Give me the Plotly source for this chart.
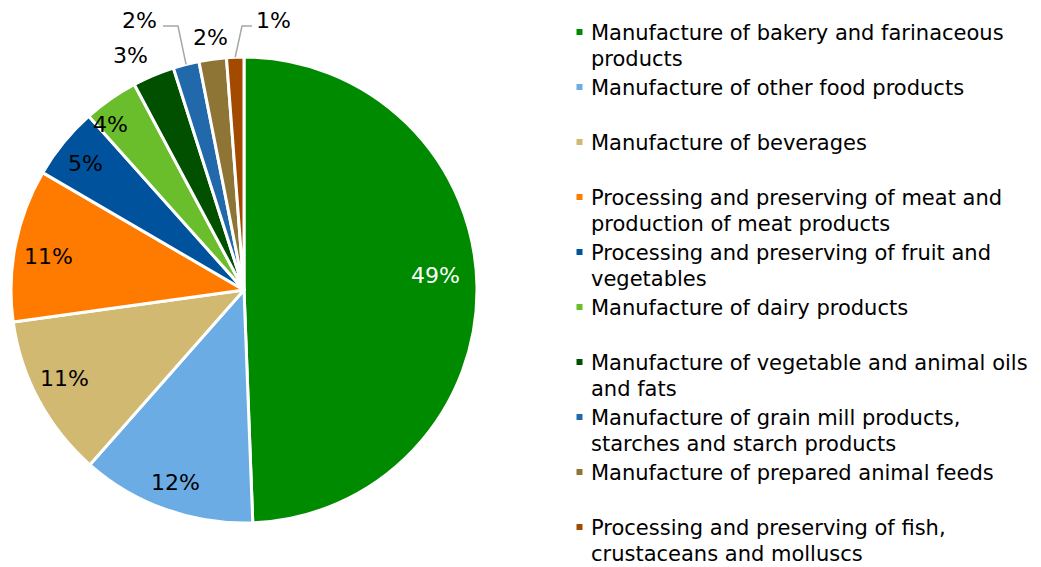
import math
import plotly.graph_objects as go

# Share of enterprises by food & beverage sub-sector (%)
categories = [
    "Manufacture of bakery and farinaceous products",
    "Manufacture of other food products",
    "Manufacture of beverages",
    "Processing and preserving of meat and production of meat products",
    "Processing and preserving of fruit and vegetables",
    "Manufacture of dairy products",
    "Manufacture of vegetable and animal oils and fats",
    "Manufacture of grain mill products, starches and starch products",
    "Manufacture of prepared animal feeds",
    "Processing and preserving of fish, crustaceans and molluscs",
]
shares = [49.4, 12.1, 11.3, 10.6, 5.0, 3.8, 2.9, 1.8, 1.9, 1.2]

# Legend text, wrapped the way it is printed
legend_lines = [
    ["Manufacture of bakery and farinaceous", "products"],
    ["Manufacture of other food products"],
    ["Manufacture of beverages"],
    ["Processing and preserving of meat and", "production of meat products"],
    ["Processing and preserving of fruit and", "vegetables"],
    ["Manufacture of dairy products"],
    ["Manufacture of vegetable and animal oils", "and fats"],
    ["Manufacture of grain mill products,", "starches and starch products"],
    ["Manufacture of prepared animal feeds"],
    ["Processing and preserving of fish,", "crustaceans and molluscs"],
]

colors = ["#008A00", "#6AACE3", "#D2B972", "#FF7B00", "#00529C",
          "#6ABD2B", "#005000", "#2169AB", "#8E7535", "#A14A00"]

FONT = "DejaVu Sans"
W, H = 1041, 567
CX, CY, R = 244, 290, 233          # pie centre and radius in pixels


def px(x):
    return x / W


def py(y):
    return 1 - y / H


def polar(angle_deg, r):
    a = math.radians(angle_deg)
    return CX + r * math.sin(a), CY - r * math.cos(a)


fig = go.Figure(go.Pie(
    labels=categories,
    values=shares,
    sort=False,
    direction="clockwise",
    rotation=0,
    marker=dict(colors=colors, line=dict(color="white", width=3)),
    textinfo="none",
    hoverinfo="label+percent",
    showlegend=False,
    domain=dict(x=[px(CX - R), px(CX + R)], y=[py(CY + R), py(CY - R)]),
))

# Percentage labels:
#   ("radial", radius factor, (dx, dy) nudge in px)
#   ("leader", label centre, line start, elbow)  -> gray connector to the rim
label_style = [
    ("radial", 0.82, (0, -11)),
    ("radial", 0.88, (0, -1)),
    ("radial", 0.86, (-3, -6)),
    ("radial", 0.86, (1, 5)),
    ("radial", 0.87, (-2, 2)),
    ("radial", 0.91, (-12, 8)),
    ("radial", 1.12, (-12, 6)),
    ("leader", (139, 21), (163, 26), (178, 26)),
    ("radial", 1.10, (1, 1)),
    ("leader", (273, 21), (252, 26), (242, 26)),
]

total = sum(shares)
annotations = []
shapes = []
start = 0.0
for i, v in enumerate(shares):
    sweep = 360.0 * v / total
    mid = start + sweep / 2
    start += sweep
    text = f"{round(100 * v / total)}%"
    color = "white" if i == 0 else "black"
    style = label_style[i]
    if style[0] == "radial":
        lx, ly = polar(mid, R * style[1])
        lx += style[2][0]
        ly += style[2][1]
    else:
        (lx, ly), (sx, sy), (ex, ey) = style[1], style[2], style[3]
        rx, ry = polar(mid, R)
        shapes.append(dict(
            type="path", xref="paper", yref="paper",
            path=f"M {px(sx)},{py(sy)} L {px(ex)},{py(ey)} L {px(rx)},{py(ry)}",
            line=dict(color="#A6A6A6", width=1.5),
        ))
    annotations.append(dict(
        x=px(lx), y=py(ly), xref="paper", yref="paper",
        text=text, showarrow=False, xanchor="center", yanchor="middle",
        font=dict(family=FONT, size=22, color=color),
    ))

# Legend drawn beside the pie
LEG_X, LEG_Y0, LEG_STEP, LINE_H = 589, 33, 55, 26
for i, lines in enumerate(legend_lines):
    yc = LEG_Y0 + i * LEG_STEP
    shapes.append(dict(
        type="rect", xref="paper", yref="paper",
        x0=px(576.5), x1=px(582.5), y0=py(yc - 4), y1=py(yc + 2),
        fillcolor=colors[i], line=dict(width=0),
    ))
    for k, line in enumerate(lines):
        annotations.append(dict(
            x=px(LEG_X), y=py(yc + k * LINE_H), xref="paper", yref="paper",
            text=line, showarrow=False, xanchor="left", yanchor="middle",
            align="left", font=dict(family=FONT, size=21, color="black"),
        ))

fig.update_layout(
    width=W, height=H,
    margin=dict(l=0, r=0, t=0, b=0),
    paper_bgcolor="white", plot_bgcolor="white",
    annotations=annotations, shapes=shapes,
    font=dict(family=FONT),
)

fig.write_html("out.html")
